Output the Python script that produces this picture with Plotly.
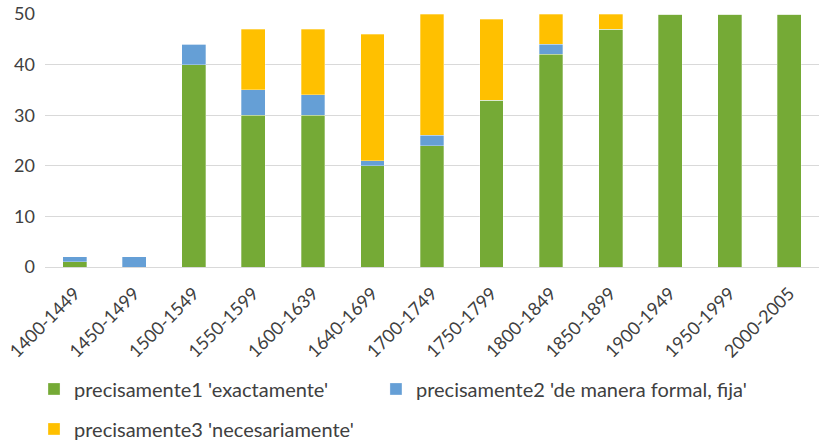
import plotly.graph_objects as go

categories = ["1400-1449", "1450-1499", "1500-1549", "1550-1599", "1600-1639", "1640-1699",
              "1700-1749", "1750-1799", "1800-1849", "1850-1899", "1900-1949", "1950-1999", "2000-2005"]
prec1 = [1, 0, 40, 30, 30, 20, 24, 33, 42, 47, 50, 50, 50]
prec2 = [1, 2, 4, 5, 4, 1, 2, 0, 2, 0, 0, 0, 0]
prec3 = [0, 0, 0, 12, 13, 25, 24, 16, 6, 3, 0, 0, 0]
names = ["precisamente1 'exactamente'", "precisamente2 'de manera formal, fija'",
         "precisamente3 'necesariamente'"]
colors = ["#75AA36", "#659FD6", "#FFC000"]

font_family = "Lato, 'Open Sans', sans-serif"
fig = go.Figure()
for vals, name, col, leg in zip([prec1, prec2, prec3], names, colors, ["legend", "legend3", "legend2"]):
    fig.add_trace(go.Bar(x=categories, y=vals, name=name, marker_color=col,
                         marker_line_width=0.6, marker_line_color="rgba(255,255,255,0.5)",
                         legend=leg))

leg_font = dict(size=20, color="#404040")
common = dict(orientation="h", xanchor="left", yanchor="middle", font=leg_font,
              itemwidth=30, bgcolor="rgba(0,0,0,0)")
fig.update_layout(
    barmode="stack",
    bargap=0.6,
    width=819, height=442,
    margin=dict(l=45, r=0, t=14, b=175, autoexpand=False),
    plot_bgcolor="white", paper_bgcolor="white",
    font=dict(family=font_family, size=18, color="#404040"),
    legend=dict(x=-0.0142, y=-0.482, **common),
    legend3=dict(x=0.4276, y=-0.482, **common),
    legend2=dict(x=-0.0142, y=-0.640, **common),
    showlegend=True,
)
fig.update_yaxes(range=[0, 50], dtick=10, showgrid=True, gridcolor="#D9D9D9", gridwidth=1,
                 zeroline=False, showline=False, tickfont=dict(size=18, color="#404040"),
                 ticks="", ticklabelstandoff=9, automargin=False)
fig.update_xaxes(tickangle=-45, showline=True, linecolor="#D9D9D9", linewidth=1,
                 tickfont=dict(size=18, color="#404040"), ticks="", ticklabelstandoff=8,
                 automargin=False)
fig.write_html("out.html", config={"displayModeBar": False},
               post_script="document.body.style.margin='0';document.body.style.overflow='hidden';")
